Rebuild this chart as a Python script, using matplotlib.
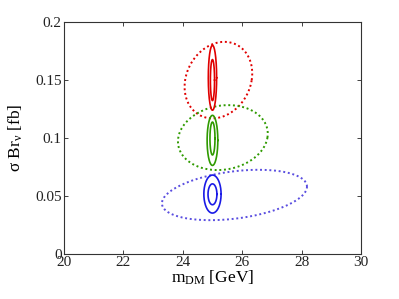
import numpy as np
import matplotlib
matplotlib.use("Agg")
import matplotlib.pyplot as plt

plt.rcParams['font.family'] = ['Liberation Serif', 'DejaVu Serif']
plt.rcParams['mathtext.fontset'] = 'custom'
plt.rcParams['mathtext.rm'] = 'Liberation Serif'
plt.rcParams['mathtext.it'] = 'Liberation Serif:italic'

# Ellipse parameters: (cx, cy, semi_x, semi_y, x_tilt, y_tilt)
# dotted = wide contours, solid = narrow contours
red_dotted = (25.2, 0.150, 1.12, 0.033, 0.2, 0.0)
red_solid = [(25.0, 0.152, 0.14, 0.028, 0.0, 0.0),
             (25.0, 0.150, 0.07, 0.0177, 0.0, 0.0)]
green_dotted = (25.35, 0.1004, 1.5, 0.028, 0.18, 0.0)
green_solid = [(25.0, 0.098, 0.18, 0.0216, 0.0, 0.0),
               (25.0, 0.0996, 0.085, 0.0142, 0.0, 0.0)]
blue_dotted = (25.74, 0.0509, 2.44, 0.0205, 0.0, 0.0072)
blue_solid = [(25.0, 0.0517, 0.29, 0.0164, 0.0, 0.0),
              (25.0, 0.0515, 0.15, 0.009, 0.0, 0.0)]

xticks = [20, 22, 24, 26, 28, 30]
yticks = [0, 0.05, 0.1, 0.15, 0.2]
yticklabels = ['0', '0.05', '0.1', '0.15', '0.2']

red = '#e00000'
green = '#2f9a00'
blue = '#1a1ae6'
blue_dot = '#5a4ee0'

def ell(p):
    cx, cy, a, b, ex, ey = p
    t = np.linspace(0, 2 * np.pi, 400)
    x = cx + a * np.cos(t) + ex * np.sin(t)
    y = cy + b * np.sin(t) + ey * np.cos(t)
    return x, y

fig = plt.figure(figsize=(3.99, 2.99), dpi=100)
ax = fig.add_axes([0.160, 0.1505, 0.745, 0.7755])

for p, c in [(red_dotted, red), (green_dotted, green), (blue_dotted, blue_dot)]:
    x, y = ell(p)
    ax.plot(x, y, color=c, linestyle=(0, (1.0, 1.4)), linewidth=1.4)
for ps, c in [(red_solid, red), (green_solid, green), (blue_solid, blue)]:
    for p in ps:
        x, y = ell(p)
        ax.plot(x, y, color=c, linewidth=1.2)

ax.set_xlim(20, 30)
ax.set_ylim(0, 0.2)
ax.set_xticks(xticks)
ax.set_xticklabels([str(v) for v in xticks])
ax.set_yticks(yticks)
ax.set_yticklabels(yticklabels)
ax.tick_params(direction='in', length=3, width=0.6, top=True, right=True,
               labelsize=11, colors='#222222', pad=1.5)
for s in ax.spines.values():
    s.set_color('#333333')
    s.set_linewidth(0.8)
ax.set_xlabel(r'm$_{\mathrm{DM}}$ [GeV]', fontsize=12.5, labelpad=0)
ax.set_ylabel('σ Br$_{\\mathrm{ν}}$ [fb]', fontsize=12.5, labelpad=7)

fig.savefig('out.png', dpi=100)
